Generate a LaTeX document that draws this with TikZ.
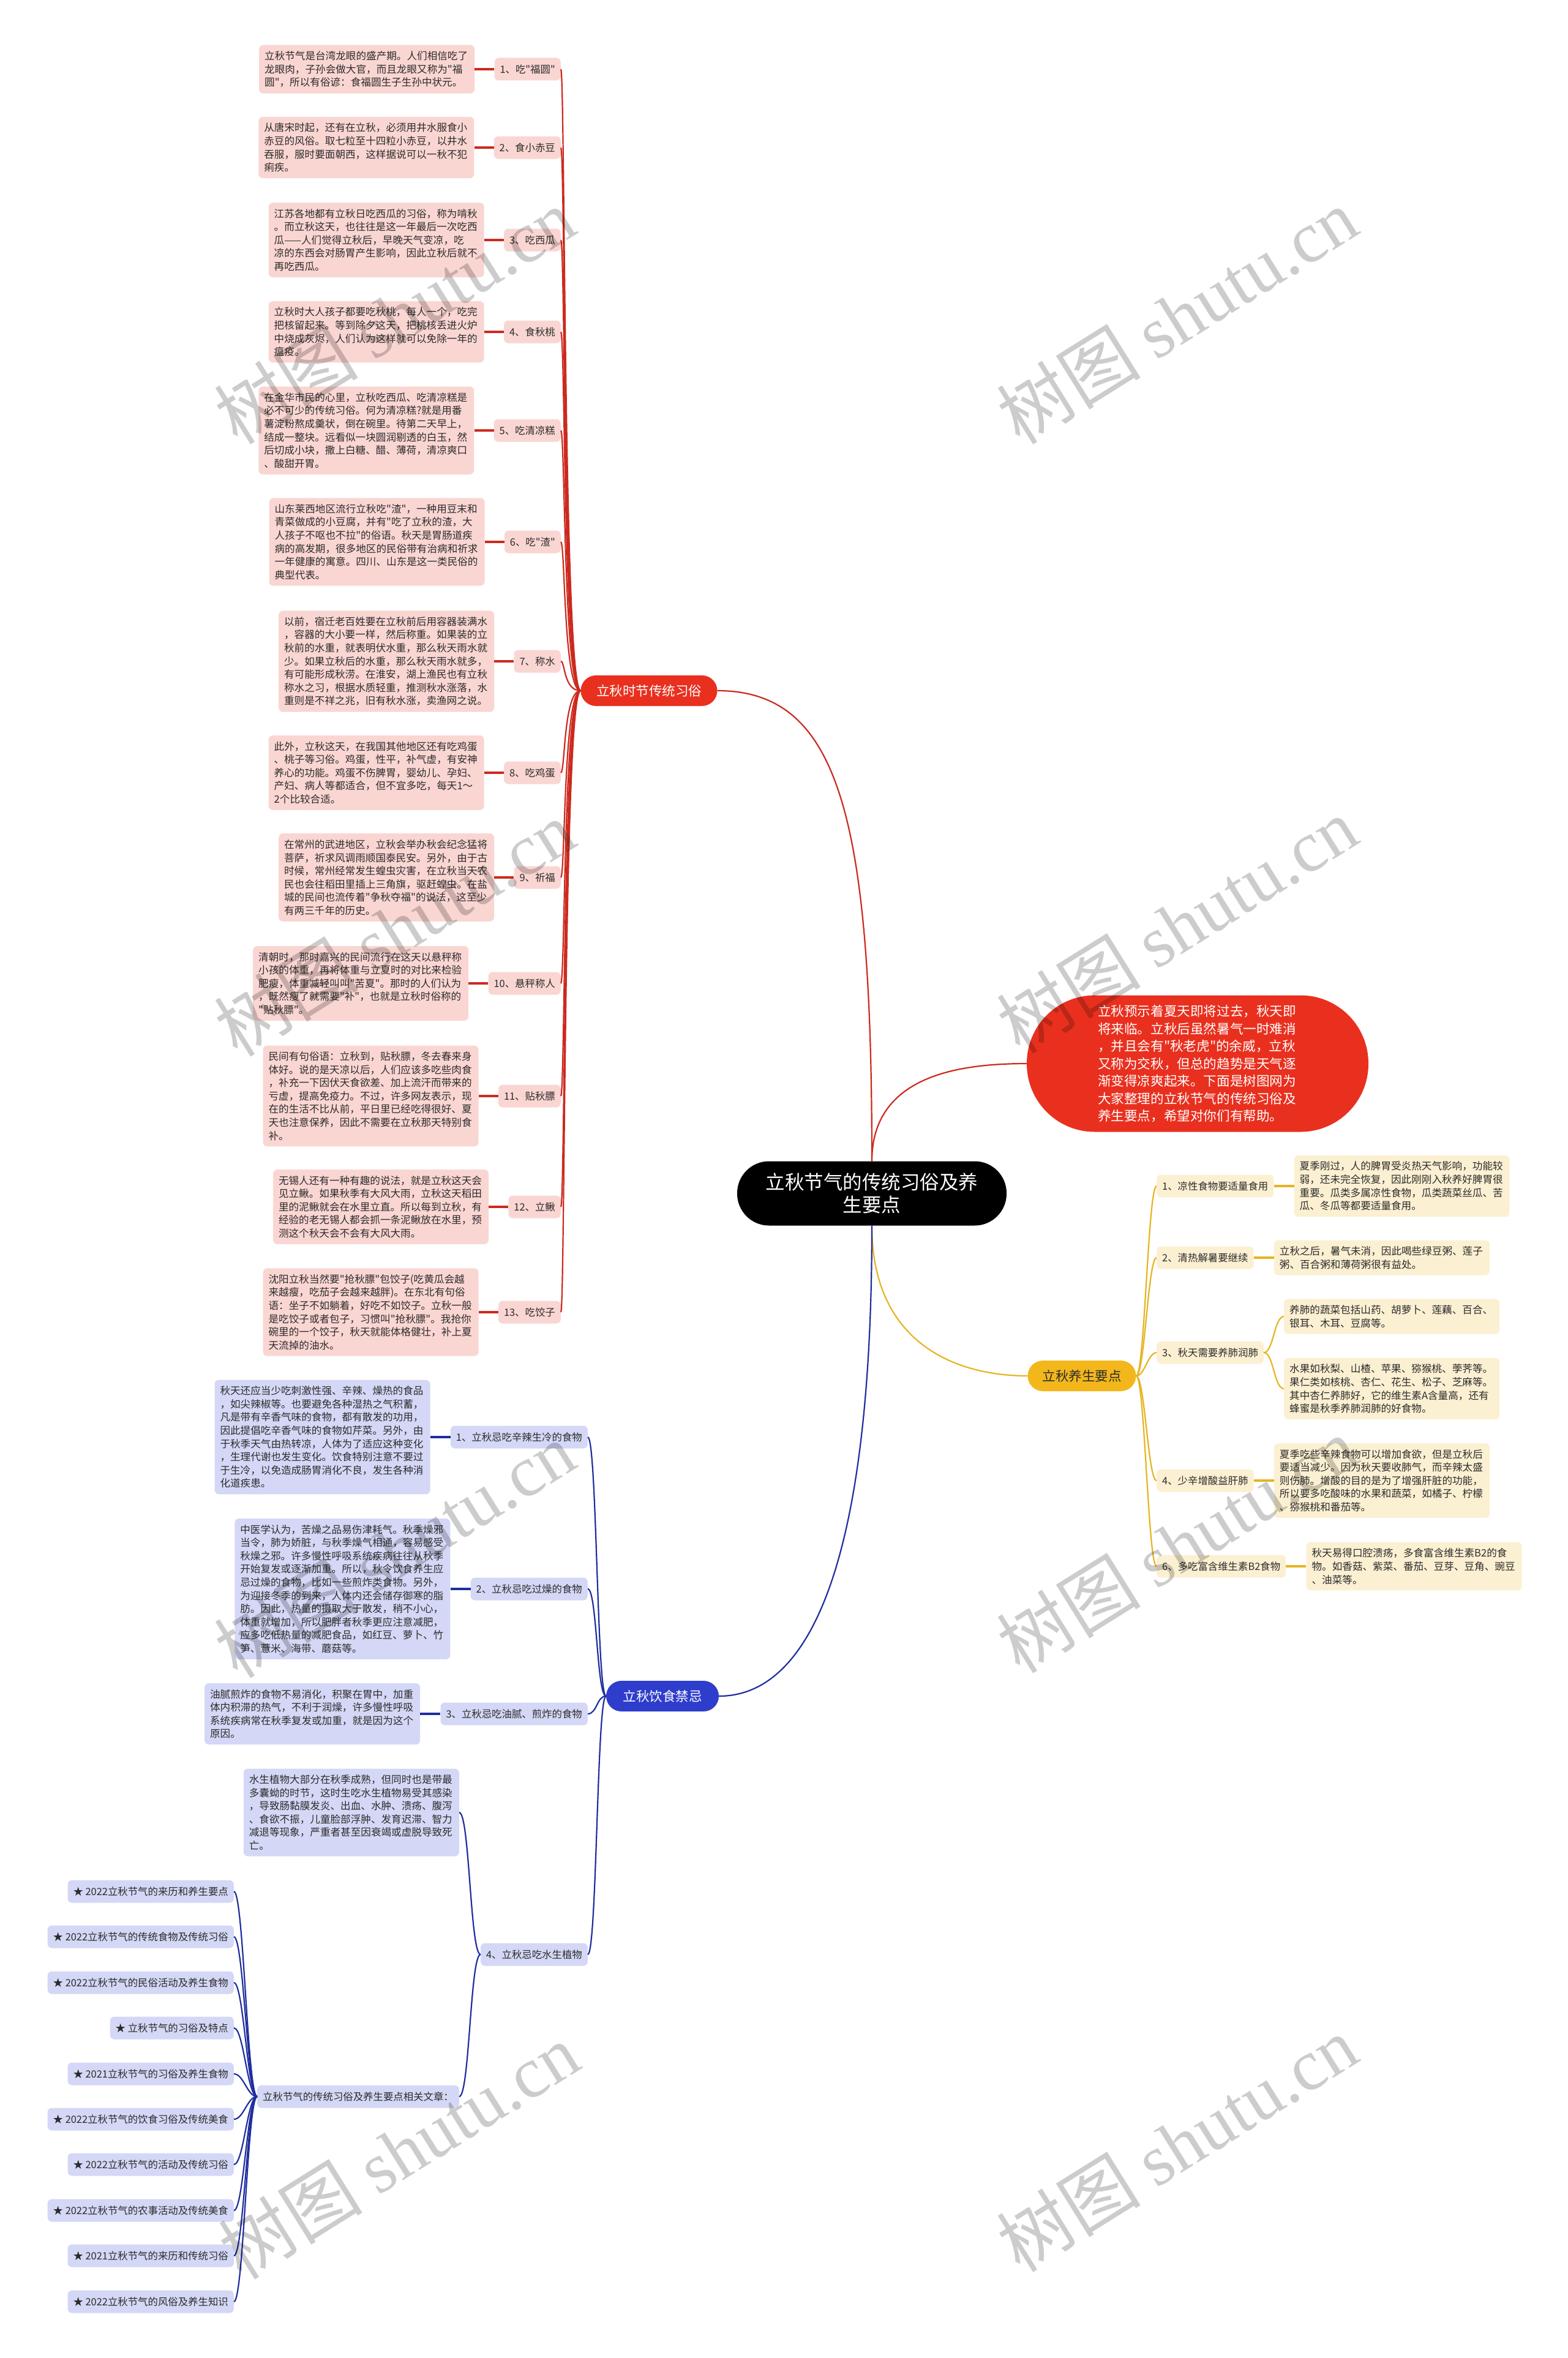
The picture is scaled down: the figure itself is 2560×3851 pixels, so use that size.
\documentclass[tikz,border=0pt]{standalone}
\usepackage{fontspec}
\setmainfont{Noto Sans CJK SC}[Ligatures=TeXOff]
\newfontfamily\wmlatin{Liberation Serif}
\usetikzlibrary{positioning}

\definecolor{redline}{HTML}{CC2A1F}
\definecolor{redmain}{HTML}{E9301F}
\definecolor{pinkbox}{HTML}{FAD6D3}
\definecolor{yellowline}{HTML}{E6B422}
\definecolor{yellowmain}{HTML}{F3B71B}
\definecolor{creambox}{HTML}{FCF0D2}
\definecolor{blueline}{HTML}{1F2E9E}
\definecolor{bluemain}{HTML}{2E3DCC}
\definecolor{lavbox}{HTML}{D4D8F6}
\definecolor{inktext}{HTML}{2B2B2B}

\tikzset{
  note/.style={rounded corners=7pt, inner xsep=9pt, inner ysep=10pt, text width=334pt,
    align=left, font=\fontsize{16.6}{21.6}\selectfont, text=inktext},
  rednote/.style={note, fill=pinkbox},
  yellownote/.style={note, fill=creambox},
  bluenote/.style={note, fill=lavbox},
  tag/.style={rounded corners=7pt, inner xsep=9pt, minimum height=37pt,
    font=\fontsize{16.4}{20}\selectfont, text=inktext},
  redtag/.style={tag, fill=pinkbox},
  yellowtag/.style={tag, fill=creambox},
  bluetag/.style={tag, fill=lavbox},
  branch/.style={rounded corners=25pt, minimum height=50pt, inner xsep=10pt,
    font=\fontsize{21.5}{26}\selectfont},
  link/.style={line width=2.2pt},
  stem/.style={line width=3.6pt},
  watermark/.style={rotate=32, text=black, text opacity=0.2, font=\fontsize{118}{118}\selectfont},
}

\begin{document}
\begin{tikzpicture}[x=1pt, y=-1pt]
\fill[white] (0,0) rectangle (2560,3851);
\useasboundingbox (0,0) rectangle (2560,3851);

% centre and main branches
\node[fill=black, text=white, rounded corners=52pt, minimum width=440pt, minimum height=105pt,
  align=center, font=\fontsize{31.5}{37}\selectfont] (hub) at (1424,1949)
  {立秋节气的传统习俗及养\\生要点};
\node[fill=redmain, text=white, rounded corners=111pt, minimum width=558pt, minimum height=223pt,
  text width=326pt, align=left, font=\fontsize{21.6}{28.5}\selectfont] (intro) at (1956,1737)
  {立秋预示着夏天即将过去，秋天即\\将来临。立秋后虽然暑气一时难消\\，并且会有"秋老虎"的余威，立秋\\又称为交秋，但总的趋势是天气逐\\渐变得凉爽起来。下面是树图网为\\大家整理的立秋节气的传统习俗及\\养生要点，希望对你们有帮助。};
\node[branch, fill=redmain, text=white, minimum width=223pt] (trad) at (1060,1128) {立秋时节传统习俗};
\node[branch, fill=yellowmain, text=inktext, minimum width=177pt] (ymain) at (1767,2247) {立秋养生要点};
\node[branch, fill=bluemain, text=white, minimum width=184pt] (bmain) at (1082,2770) {立秋饮食禁忌};

\draw[link, redline] (hub.north) .. controls +(0,-560) and +(200,0) .. (trad.east);
\draw[link, redline] (hub.north) .. controls +(0,-140) and +(-110,0) .. (intro.west);
\draw[link, yellowline] (hub.south) .. controls +(0,190) and +(-120,0) .. (ymain.west);
\draw[link, blueline] (hub.south) .. controls +(0,600) and +(130,0) .. (bmain.east);

% red branch
\node[redtag, anchor=east] (l1) at (916,113) {1、吃"福圆"};
\node[redtag, anchor=east] (l2) at (916,241) {2、食小赤豆};
\node[redtag, anchor=east] (l3) at (916,392) {3、吃西瓜};
\node[redtag, anchor=east] (l4) at (916,542) {4、食秋桃};
\node[redtag, anchor=east] (l5) at (916,703) {5、吃清凉糕};
\node[redtag, anchor=east] (l6) at (916,885) {6、吃"渣"};
\node[redtag, anchor=east] (l7) at (916,1080) {7、称水};
\node[redtag, anchor=east] (l8) at (916,1262) {8、吃鸡蛋};
\node[redtag, anchor=east] (l9) at (916,1433) {9、祈福};
\node[redtag, anchor=east] (l10) at (916,1606) {10、悬秤称人};
\node[redtag, anchor=east] (l11) at (916,1790) {11、贴秋膘};
\node[redtag, anchor=east] (l12) at (916,1971) {12、立鳅};
\node[redtag, anchor=east] (l13) at (916,2143) {13、吃饺子};

\node[rednote, left=32pt of l1] (r1) {立秋节气是台湾龙眼的盛产期。人们相信吃了\\龙眼肉，子孙会做大官，而且龙眼又称为"福\\圆"，所以有俗谚：食福圆生子生孙中状元。};
\node[rednote, left=32pt of l2] (r2) {从唐宋时起，还有在立秋，必须用井水服食小\\赤豆的风俗。取七粒至十四粒小赤豆，以井水\\吞服，服时要面朝西，这样据说可以一秋不犯\\痢疾。};
\node[rednote, left=32pt of l3] (r3) {江苏各地都有立秋日吃西瓜的习俗，称为啃秋\\。而立秋这天，也往往是这一年最后一次吃西\\瓜——人们觉得立秋后，早晚天气变凉，吃\\凉的东西会对肠胃产生影响，因此立秋后就不\\再吃西瓜。};
\node[rednote, left=32pt of l4] (r4) {立秋时大人孩子都要吃秋桃，每人一个，吃完\\把核留起来。等到除夕这天，把桃核丢进火炉\\中烧成灰烬，人们认为这样就可以免除一年的\\瘟疫。};
\node[rednote, left=32pt of l5] (r5) {在金华市民的心里，立秋吃西瓜、吃清凉糕是\\必不可少的传统习俗。何为清凉糕?就是用番\\薯淀粉熬成羹状，倒在碗里。待第二天早上，\\结成一整块。远看似一块圆润剔透的白玉，然\\后切成小块，撒上白糖、醋、薄荷，清凉爽口\\、酸甜开胃。};
\node[rednote, left=32pt of l6] (r6) {山东莱西地区流行立秋吃"渣"，一种用豆末和\\青菜做成的小豆腐，并有"吃了立秋的渣，大\\人孩子不呕也不拉"的俗语。秋天是胃肠道疾\\病的高发期，很多地区的民俗带有治病和祈求\\一年健康的寓意。四川、山东是这一类民俗的\\典型代表。};
\node[rednote, left=32pt of l7] (r7) {以前，宿迁老百姓要在立秋前后用容器装满水\\，容器的大小要一样，然后称重。如果装的立\\秋前的水重，就表明伏水重，那么秋天雨水就\\少。如果立秋后的水重，那么秋天雨水就多，\\有可能形成秋涝。在淮安，湖上渔民也有立秋\\称水之习，根据水质轻重，推测秋水涨落，水\\重则是不祥之兆，旧有秋水涨，卖渔网之说。};
\node[rednote, left=32pt of l8] (r8) {此外，立秋这天，在我国其他地区还有吃鸡蛋\\、桃子等习俗。鸡蛋，性平，补气虚，有安神\\养心的功能。鸡蛋不伤脾胃，婴幼儿、孕妇、\\产妇、病人等都适合，但不宜多吃，每天1～\\2个比较合适。};
\node[rednote, left=32pt of l9] (r9) {在常州的武进地区，立秋会举办秋会纪念猛将\\菩萨，祈求风调雨顺国泰民安。另外，由于古\\时候，常州经常发生蝗虫灾害，在立秋当天农\\民也会往稻田里插上三角旗，驱赶蝗虫。在盐\\城的民间也流传着"争秋夺福"的说法，这至少\\有两三千年的历史。};
\node[rednote, left=32pt of l10] (r10) {清朝时，那时嘉兴的民间流行在这天以悬秤称\\小孩的体重，再将体重与立夏时的对比来检验\\肥瘦，体重减轻叫叫"苦夏"。那时的人们认为\\，既然瘦了就需要"补"，也就是立秋时俗称的\\"贴秋膘"。};
\node[rednote, left=32pt of l11] (r11) {民间有句俗语：立秋到，贴秋膘，冬去春来身\\体好。说的是天凉以后，人们应该多吃些肉食\\，补充一下因伏天食欲差、加上流汗而带来的\\亏虚，提高免疫力。不过，许多网友表示，现\\在的生活不比从前，平日里已经吃得很好、夏\\天也注意保养，因此不需要在立秋那天特别食\\补。};
\node[rednote, left=32pt of l12] (r12) {无锡人还有一种有趣的说法，就是立秋这天会\\见立鳅。如果秋季有大风大雨，立秋这天稻田\\里的泥鳅就会在水里立直。所以每到立秋，有\\经验的老无锡人都会抓一条泥鳅放在水里，预\\测这个秋天会不会有大风大雨。};
\node[rednote, left=32pt of l13] (r13) {沈阳立秋当然要"抢秋膘"包饺子(吃黄瓜会越\\来越瘦，吃茄子会越来越胖)。在东北有句俗\\语：坐子不如躺着，好吃不如饺子。立秋一般\\是吃饺子或者包子，习惯叫"抢秋膘"。我抢你\\碗里的一个饺子，秋天就能体格健壮，补上夏\\天流掉的油水。};

\draw[link, redline] (trad.west) .. controls +(-28,0) and +(7,0) .. (l1.east);
\draw[link, redline] (trad.west) .. controls +(-28,0) and +(7,0) .. (l2.east);
\draw[link, redline] (trad.west) .. controls +(-28,0) and +(7,0) .. (l3.east);
\draw[link, redline] (trad.west) .. controls +(-28,0) and +(7,0) .. (l4.east);
\draw[link, redline] (trad.west) .. controls +(-28,0) and +(7,0) .. (l5.east);
\draw[link, redline] (trad.west) .. controls +(-28,0) and +(7,0) .. (l6.east);
\draw[link, redline] (trad.west) .. controls +(-28,0) and +(7,0) .. (l7.east);
\draw[link, redline] (trad.west) .. controls +(-28,0) and +(7,0) .. (l8.east);
\draw[link, redline] (trad.west) .. controls +(-28,0) and +(7,0) .. (l9.east);
\draw[link, redline] (trad.west) .. controls +(-28,0) and +(7,0) .. (l10.east);
\draw[link, redline] (trad.west) .. controls +(-28,0) and +(7,0) .. (l11.east);
\draw[link, redline] (trad.west) .. controls +(-28,0) and +(7,0) .. (l12.east);
\draw[link, redline] (trad.west) .. controls +(-28,0) and +(7,0) .. (l13.east);

\draw[stem, redline] (r1.east) -- (l1.west);
\draw[stem, redline] (r2.east) -- (l2.west);
\draw[stem, redline] (r3.east) -- (l3.west);
\draw[stem, redline] (r4.east) -- (l4.west);
\draw[stem, redline] (r5.east) -- (l5.west);
\draw[stem, redline] (r6.east) -- (l6.west);
\draw[stem, redline] (r7.east) -- (l7.west);
\draw[stem, redline] (r8.east) -- (l8.west);
\draw[stem, redline] (r9.east) -- (l9.west);
\draw[stem, redline] (r10.east) -- (l10.west);
\draw[stem, redline] (r11.east) -- (l11.west);
\draw[stem, redline] (r12.east) -- (l12.west);
\draw[stem, redline] (r13.east) -- (l13.west);

% yellow branch
\node[yellowtag, anchor=west] (y1) at (1889,1937) {1、凉性食物要适量食用};
\node[yellowtag, anchor=west] (y2) at (1889,2054) {2、清热解暑要继续};
\node[yellowtag, anchor=west] (y3) at (1889,2209) {3、秋天需要养肺润肺};
\node[yellowtag, anchor=west] (y4) at (1889,2418) {4、少辛增酸益肝肺};
\node[yellowtag, anchor=west] (y6) at (1889,2558) {6、多吃富含维生素B2食物};

\node[yellownote, right=33pt of y1] (t1) {夏季刚过，人的脾胃受炎热天气影响，功能较\\弱，还未完全恢复，因此刚刚入秋养好脾胃很\\重要。瓜类多属凉性食物，瓜类蔬菜丝瓜、苦\\瓜、冬瓜等都要适量食用。};
\node[yellownote, right=33pt of y2] (t2) {立秋之后，暑气未消，因此喝些绿豆粥、莲子\\粥、百合粥和薄荷粥很有益处。};
\node[yellownote, anchor=west] (t3a) at (2097,2150) {养肺的蔬菜包括山药、胡萝卜、莲藕、百合、\\银耳、木耳、豆腐等。};
\node[yellownote, anchor=west] (t3b) at (2097,2268) {水果如秋梨、山楂、苹果、猕猴桃、荸荠等。\\果仁类如核桃、杏仁、花生、松子、芝麻等。\\其中杏仁养肺好，它的维生素A含量高，还有\\蜂蜜是秋季养肺润肺的好食物。};
\node[yellownote, right=33pt of y4] (t4) {夏季吃些辛辣食物可以增加食欲，但是立秋后\\要适当减少。因为秋天要收肺气，而辛辣太盛\\则伤肺。增酸的目的是为了增强肝脏的功能，\\所以要多吃酸味的水果和蔬菜，如橘子、柠檬\\、猕猴桃和番茄等。};
\node[yellownote, right=33pt of y6] (t6) {秋天易得口腔溃疡，多食富含维生素B2的食\\物。如香菇、紫菜、番茄、豆芽、豆角、豌豆\\、油菜等。};

\draw[link, yellowline] (ymain.east) .. controls +(14,0) and +(-14,0) .. (y1.west);
\draw[link, yellowline] (ymain.east) .. controls +(14,0) and +(-14,0) .. (y2.west);
\draw[link, yellowline] (ymain.east) .. controls +(14,0) and +(-14,0) .. (y3.west);
\draw[link, yellowline] (ymain.east) .. controls +(14,0) and +(-14,0) .. (y4.west);
\draw[link, yellowline] (ymain.east) .. controls +(14,0) and +(-14,0) .. (y6.west);

\draw[stem, yellowline] (y1.east) -- (t1.west);
\draw[stem, yellowline] (y2.east) -- (t2.west);
\draw[link, yellowline] (y3.east) .. controls +(16,0) and +(-16,0) .. (t3a.west);
\draw[link, yellowline] (y3.east) .. controls +(16,0) and +(-16,0) .. (t3b.west);
\draw[stem, yellowline] (y4.east) -- (t4.west);
\draw[stem, yellowline] (y6.east) -- (t6.west);

% blue branch
\node[bluetag, anchor=east] (b1) at (960,2347) {1、立秋忌吃辛辣生冷的食物};
\node[bluetag, anchor=east] (b2) at (960,2595) {2、立秋忌吃过燥的食物};
\node[bluetag, anchor=east] (b3) at (960,2799) {3、立秋忌吃油腻、煎炸的食物};
\node[bluetag, anchor=east] (b4) at (960,3192) {4、立秋忌吃水生植物};

\node[bluenote, left=33pt of b1] (d1) {秋天还应当少吃刺激性强、辛辣、燥热的食品\\，如尖辣椒等。也要避免各种湿热之气积蓄，\\凡是带有辛香气味的食物，都有散发的功用，\\因此提倡吃辛香气味的食物如芹菜。另外，由\\于秋季天气由热转凉，人体为了适应这种变化\\，生理代谢也发生变化。饮食特别注意不要过\\于生冷，以免造成肠胃消化不良，发生各种消\\化道疾患。};
\node[bluenote, left=33pt of b2] (d2) {中医学认为，苦燥之品易伤津耗气。秋季燥邪\\当令，肺为娇脏，与秋季燥气相通，容易感受\\秋燥之邪。许多慢性呼吸系统疾病往往从秋季\\开始复发或逐渐加重。所以，秋令饮食养生应\\忌过燥的食物，比如一些煎炸类食物。另外，\\为迎接冬季的到来，人体内还会储存御寒的脂\\肪。因此，热量的摄取大于散发，稍不小心，\\体重就增加，所以肥胖者秋季更应注意减肥，\\应多吃低热量的减肥食品，如红豆、萝卜、竹\\笋、薏米、海带、蘑菇等。};
\node[bluenote, left=33pt of b3] (d3) {油腻煎炸的食物不易消化，积聚在胃中，加重\\体内积滞的热气，不利于润燥，许多慢性呼吸\\系统疾病常在秋季复发或加重，就是因为这个\\原因。};
\node[bluenote, anchor=east] (d4) at (750,2960) {水生植物大部分在秋季成熟，但同时也是带最\\多囊蚴的时节，这时生吃水生植物易受其感染\\，导致肠黏膜发炎、出血、水肿、溃疡、腹泻\\、食欲不振，儿童脸部浮肿、发育迟滞、智力\\减退等现象，严重者甚至因衰竭或虚脱导致死\\亡。};
\node[bluetag, anchor=east] (rel) at (750,3424) {立秋节气的传统习俗及养生要点相关文章：};

\node[bluetag, anchor=east] (a1) at (382,3089) {★ 2022立秋节气的来历和养生要点};
\node[bluetag, anchor=east] (a2) at (382,3163) {★ 2022立秋节气的传统食物及传统习俗};
\node[bluetag, anchor=east] (a3) at (382,3238) {★ 2022立秋节气的民俗活动及养生食物};
\node[bluetag, anchor=east] (a4) at (382,3312) {★ 立秋节气的习俗及特点};
\node[bluetag, anchor=east] (a5) at (382,3387) {★ 2021立秋节气的习俗及养生食物};
\node[bluetag, anchor=east] (a6) at (382,3461) {★ 2022立秋节气的饮食习俗及传统美食};
\node[bluetag, anchor=east] (a7) at (382,3535) {★ 2022立秋节气的活动及传统习俗};
\node[bluetag, anchor=east] (a8) at (382,3610) {★ 2022立秋节气的农事活动及传统美食};
\node[bluetag, anchor=east] (a9) at (382,3684) {★ 2021立秋节气的来历和传统习俗};
\node[bluetag, anchor=east] (a10) at (382,3759) {★ 2022立秋节气的风俗及养生知识};

\draw[link, blueline] (bmain.west) .. controls +(-15,0) and +(15,0) .. (b1.east);
\draw[link, blueline] (bmain.west) .. controls +(-15,0) and +(15,0) .. (b2.east);
\draw[link, blueline] (bmain.west) .. controls +(-15,0) and +(15,0) .. (b3.east);
\draw[link, blueline] (bmain.west) .. controls +(-15,0) and +(15,0) .. (b4.east);

\draw[stem, blueline] (d1.east) -- (b1.west);
\draw[stem, blueline] (d2.east) -- (b2.west);
\draw[stem, blueline] (d3.east) -- (b3.west);
\draw[link, blueline] (b4.west) .. controls +(-17,0) and +(17,0) .. (d4.east);
\draw[link, blueline] (b4.west) .. controls +(-17,0) and +(17,0) .. (rel.east);

\draw[link, blueline] (rel.west) .. controls +(-16,0) and +(16,0) .. (a1.east);
\draw[link, blueline] (rel.west) .. controls +(-16,0) and +(16,0) .. (a2.east);
\draw[link, blueline] (rel.west) .. controls +(-16,0) and +(16,0) .. (a3.east);
\draw[link, blueline] (rel.west) .. controls +(-16,0) and +(16,0) .. (a4.east);
\draw[link, blueline] (rel.west) .. controls +(-16,0) and +(16,0) .. (a5.east);
\draw[link, blueline] (rel.west) .. controls +(-16,0) and +(16,0) .. (a6.east);
\draw[link, blueline] (rel.west) .. controls +(-16,0) and +(16,0) .. (a7.east);
\draw[link, blueline] (rel.west) .. controls +(-16,0) and +(16,0) .. (a8.east);
\draw[link, blueline] (rel.west) .. controls +(-16,0) and +(16,0) .. (a9.east);
\draw[link, blueline] (rel.west) .. controls +(-16,0) and +(16,0) .. (a10.east);

% watermarks
\node[watermark] (w1) at (644,516) {树图 {\wmlatin shutu.cn}};
\node[watermark] (w2) at (1922,516) {树图 {\wmlatin shutu.cn}};
\node[watermark] (w3) at (644,1516) {树图 {\wmlatin shutu.cn}};
\node[watermark] (w4) at (1922,1511) {树图 {\wmlatin shutu.cn}};
\node[watermark] (w5) at (644,2531) {树图 {\wmlatin shutu.cn}};
\node[watermark] (w6) at (1922,2523) {树图 {\wmlatin shutu.cn}};
\node[watermark] (w7) at (651,3513) {树图 {\wmlatin shutu.cn}};
\node[watermark] (w8) at (1922,3501) {树图 {\wmlatin shutu.cn}};
\end{tikzpicture}
\end{document}
